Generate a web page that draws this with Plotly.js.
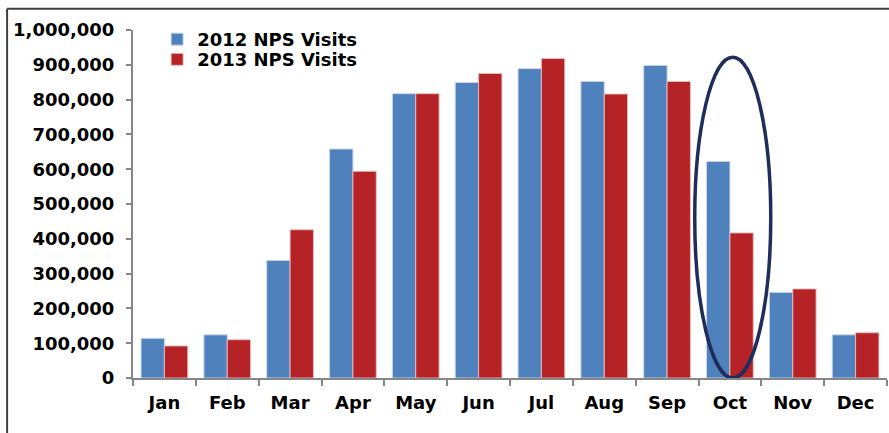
<!DOCTYPE html>
<html>
<head>
<meta charset="utf-8">
<script src="https://cdn.plot.ly/plotly-3.0.1.min.js"></script>
<style>
html,body{margin:0;padding:0;background:#fff;}
#chart{width:889px;height:433px;}
</style>
</head>
<body>
<div id="chart"></div>
<script>
const months = ["Jan","Feb","Mar","Apr","May","Jun","Jul","Aug","Sep","Oct","Nov","Dec"];
const visits2012 = [114000,124000,338000,658000,817000,849000,889000,852000,898000,622000,246000,124000];
const visits2013 = [92000,110000,426000,594000,817000,875000,918000,816000,852000,417000,256000,130000];
const seriesNames = ["2012 NPS Visits","2013 NPS Visits"];
const yTicks = [0,100000,200000,300000,400000,500000,600000,700000,800000,900000,1000000];
// highlight ellipse around October (category index units / value units)
const ellipseX = [8.44, 9.65];
const ellipseY = [0, 922000];

const fam = "DejaVu Sans, Verdana, sans-serif";
const boldFont = {family:fam, size:18, color:"#000", weight:"bold"};
const traces = [
  {type:"bar", x:months, y:visits2012, name:seriesNames[0], legend:"legend",
   marker:{color:"#4f81bd", line:{color:"rgba(200,215,235,0.9)", width:1}}},
  {type:"bar", x:months, y:visits2013, name:seriesNames[1], legend:"legend2",
   marker:{color:"#b52327", line:{color:"rgba(235,190,190,0.9)", width:1}}}
];
const legendBase = {x:0.032, xanchor:"left", yanchor:"top", bgcolor:"rgba(0,0,0,0)", font:boldFont};
const layout = {
  width:889, height:433,
  margin:{l:133, r:2, t:30, b:55},
  paper_bgcolor:"#fff", plot_bgcolor:"#fff",
  barmode:"group", bargap:0.257, bargroupgap:0,
  font:{family:fam, size:18, color:"#000"},
  showlegend:true,
  legend:Object.assign({y:1.026}, legendBase),
  legend2:Object.assign({y:0.968}, legendBase),
  xaxis:{type:"category", showline:true, linecolor:"#868686", linewidth:2,
         ticks:"outside", tickson:"boundaries", ticklen:6, tickcolor:"#868686", tickwidth:2,
         tickfont:boldFont, ticklabelstandoff:7,
         showgrid:false, zeroline:false, fixedrange:true},
  yaxis:{range:[0,1000000], tickvals:yTicks, tickformat:",d", showline:true,
         linecolor:"#868686", linewidth:2, ticks:"outside", ticklen:5, tickcolor:"#868686", tickwidth:2,
         tickfont:boldFont,
         showgrid:false, zeroline:false, ticklabelstandoff:8, fixedrange:true},
  shapes:[
    {type:"circle", xref:"x", yref:"y", x0:ellipseX[0], x1:ellipseX[1], y0:ellipseY[0], y1:ellipseY[1],
     line:{color:"#1f2d5c", width:3.5}, layer:"above"},
    {type:"line", xref:"paper", yref:"paper", x0:-0.167, x1:1.01, y0:1.061, y1:1.061,
     line:{color:"#404040", width:2}},
    {type:"line", xref:"paper", yref:"paper", x0:-0.167, x1:-0.167, y0:1.061, y1:-0.16,
     line:{color:"#404040", width:2}}
  ]
};
Plotly.newPlot("chart", traces, layout, {displayModeBar:false, staticPlot:true});
</script>
</body>
</html>
